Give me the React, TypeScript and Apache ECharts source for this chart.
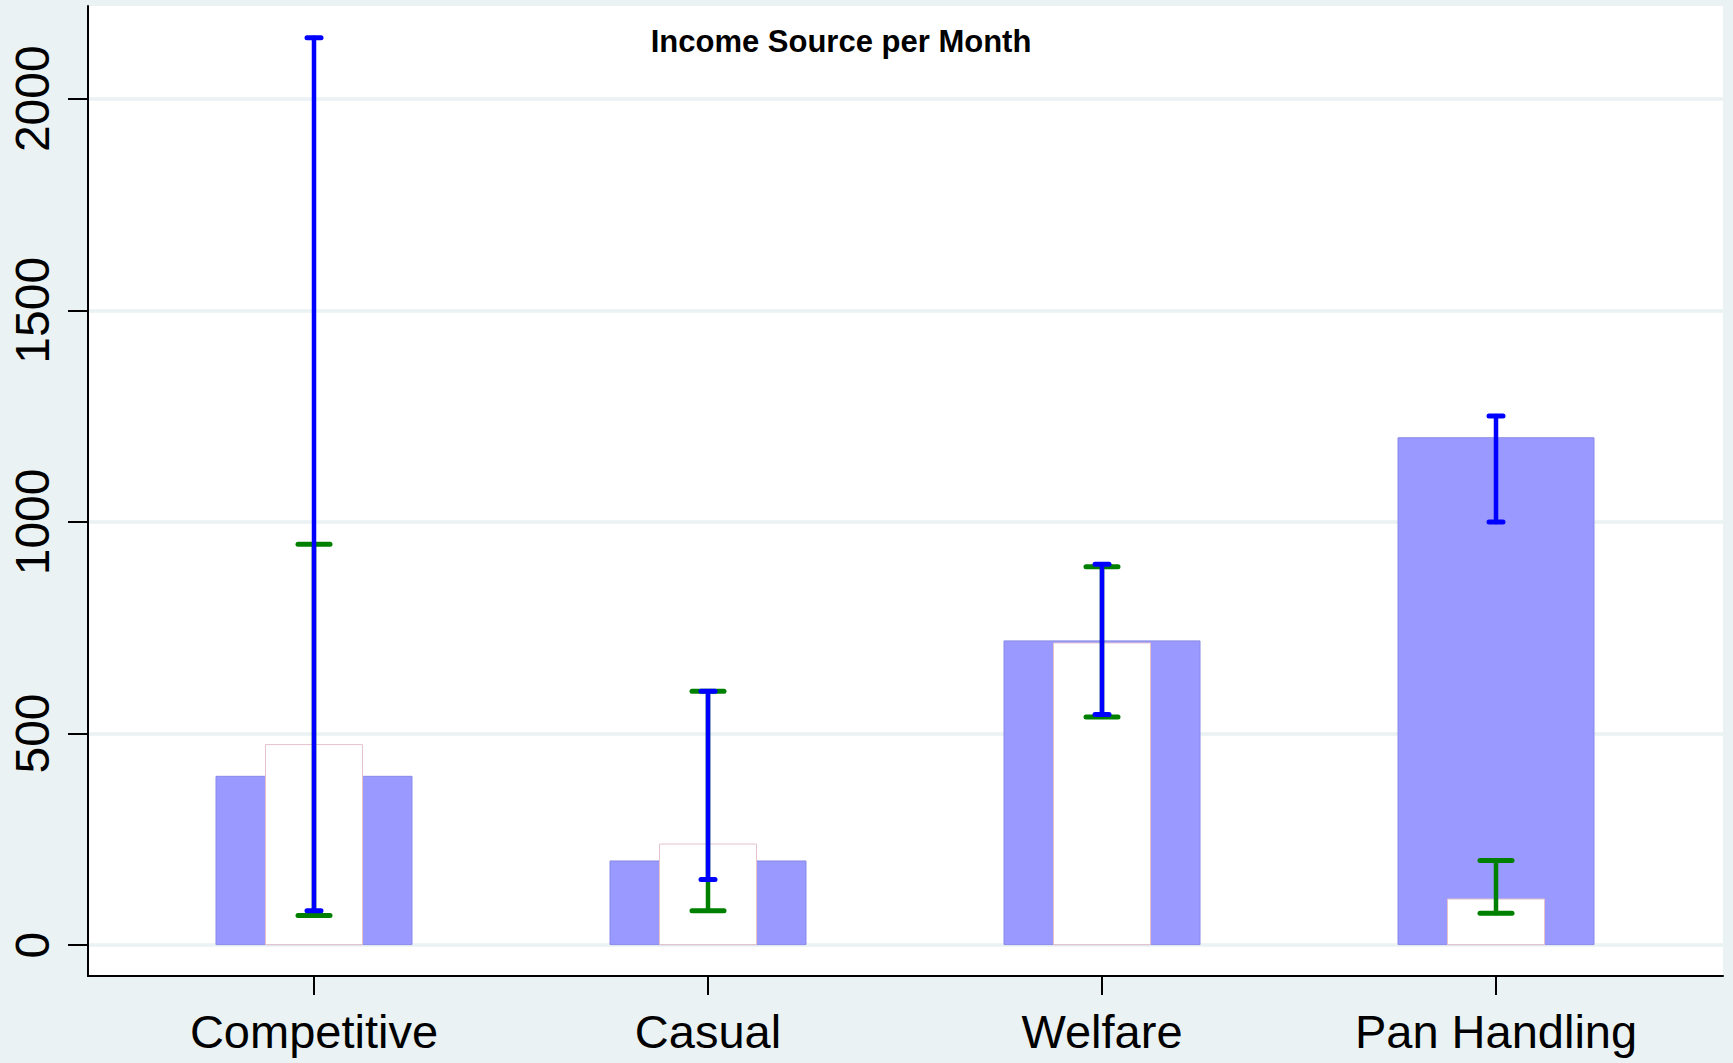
import React, { useEffect, useRef } from "react";
import * as echarts from "echarts";

const categories = ["Competitive", "Casual", "Welfare", "Pan Handling"];
const blueBarValues = [400, 200, 720, 1200];
const whiteBarValues = [475, 240, 715, 110];
const blueErrLow = [81, 155, 545, 1000];
const blueErrHigh = [2144, 600, 900, 1250];
const greenErrLow = [70, 81, 539, 75];
const greenErrHigh = [947, 600, 894, 200];
const yTickValues = [0, 500, 1000, 1500, 2000];
const yMin = -73;
const yMax = 2219;
const titleText = "Income Source per Month";

const BG = "#EAF2F3";
const FONT = "'Liberation Sans', Arial, sans-serif";

function errRender(color: string, capHalf: number) {
  return (params: any, api: any) => {
    const x = api.value(0);
    const lo = api.coord([x, api.value(1)]);
    const hi = api.coord([x, api.value(2)]);
    const style = { stroke: color, lineWidth: 4.5, lineCap: "round" };
    const capStyle = { stroke: color, lineWidth: 5, lineCap: "round" };
    return {
      type: "group",
      children: [
        { type: "line", shape: { x1: lo[0], y1: lo[1], x2: hi[0], y2: hi[1] }, style },
        { type: "line", shape: { x1: lo[0] - capHalf, y1: lo[1], x2: lo[0] + capHalf, y2: lo[1] }, style: capStyle },
        { type: "line", shape: { x1: hi[0] - capHalf, y1: hi[1], x2: hi[0] + capHalf, y2: hi[1] }, style: capStyle },
      ],
    };
  };
}

export default function App() {
  const ref = useRef<HTMLDivElement>(null);
  useEffect(() => {
    document.body.style.margin = "0";
    const chart = echarts.init(ref.current!, null, { renderer: "svg" });
    const greenData = categories.map((_, i) => [i, greenErrLow[i], greenErrHigh[i]]);
    const blueData = categories.map((_, i) => [i, blueErrLow[i], blueErrHigh[i]]);
    chart.setOption({
      animation: false,
      backgroundColor: BG,
      graphic: [
        {
          type: "text",
          x: 841,
          y: 41,
          z: 100,
          style: {
            text: titleText,
            fontFamily: FONT,
            fontSize: 31,
            fontWeight: "bold",
            fill: "#000",
            textAlign: "center",
            textVerticalAlign: "middle",
          },
        },
      ],
      grid: [
        { left: 88, right: 10, top: 6, bottom: 87, show: true, backgroundColor: "#fff", borderWidth: 0 },
        { left: 117, right: 40, top: 6, bottom: 87, show: false },
      ],
      xAxis: [
        {
          type: "value",
          gridIndex: 0,
          min: 0,
          max: 1,
          axisLine: { show: true, onZero: false, lineStyle: { color: "#000", width: 2 } },
          axisTick: { show: false },
          axisLabel: { show: false },
          splitLine: { show: false },
        },
        {
          type: "category",
          gridIndex: 1,
          data: categories,
          position: "bottom",
          axisLine: { show: false, onZero: false },
          axisTick: { show: true, alignWithLabel: true, length: 19, lineStyle: { color: "#000", width: 2 } },
          axisLabel: { interval: 0, fontSize: 47, fontFamily: FONT, color: "#000", margin: 32 },
          splitLine: { show: false },
        },
        {
          type: "category",
          gridIndex: 1,
          data: categories,
          show: false,
        },
      ],
      yAxis: [
        {
          type: "value",
          gridIndex: 0,
          min: yMin,
          max: yMax,
          axisLine: { show: true, onZero: false, lineStyle: { color: "#000", width: 2 } },
          axisTick: { show: true, length: 20, customValues: yTickValues, lineStyle: { color: "#000", width: 2 } },
          axisLabel: {
            customValues: yTickValues,
            formatter: (v: number) => String(v),
            rotate: 90,
            fontSize: 48,
            fontFamily: FONT,
            color: "#000",
            margin: 32,
          },
          splitLine: { show: true, lineStyle: { color: BG, width: 3.5 } },
        },
        {
          type: "value",
          gridIndex: 1,
          min: yMin,
          max: yMax,
          show: false,
          splitLine: { show: false },
        },
      ],
      series: [
        {
          type: "bar",
          xAxisIndex: 1,
          yAxisIndex: 1,
          data: blueBarValues,
          barWidth: 197,
          itemStyle: { color: "#9999FF", borderColor: "#8A8AE8", borderWidth: 1 },
        },
        {
          type: "bar",
          xAxisIndex: 2,
          yAxisIndex: 1,
          data: whiteBarValues,
          barWidth: 98,
          itemStyle: { color: "#FFFFFF", borderColor: "#E6C3CC", borderWidth: 1 },
        },
        {
          type: "custom",
          xAxisIndex: 1,
          yAxisIndex: 1,
          data: greenData,
          encode: { x: 0, y: [1, 2] },
          renderItem: errRender("#008000", 16),
          z: 5,
        },
        {
          type: "custom",
          xAxisIndex: 1,
          yAxisIndex: 1,
          data: blueData,
          encode: { x: 0, y: [1, 2] },
          renderItem: errRender("#0000FF", 7),
          z: 6,
        },
      ],
    });
    return () => chart.dispose();
  }, []);
  return (
    <div
      ref={ref}
      style={{ position: "absolute", left: 0, top: 0, width: 1733, height: 1063 }}
    />
  );
}
